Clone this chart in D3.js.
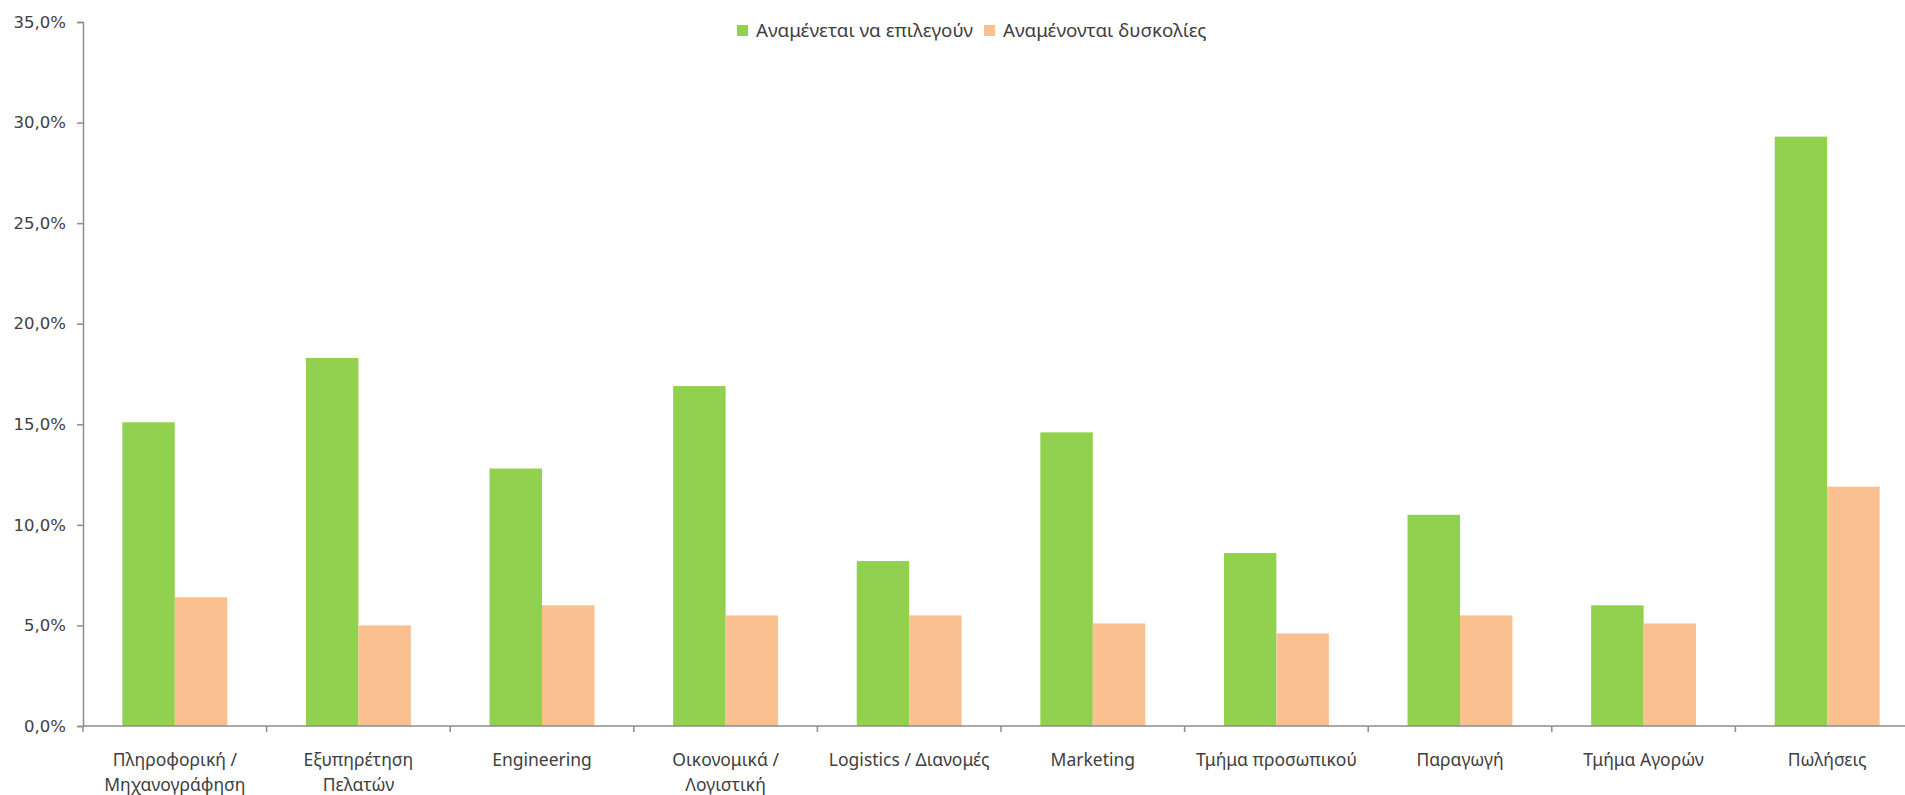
<!DOCTYPE html>
<html>
<head>
<meta charset="utf-8">
<script src="https://cdn.jsdelivr.net/npm/d3@7"></script>
<style>
  body { margin: 0; background: #fff; }
  .tick-label { font-family: "DejaVu Sans", sans-serif; font-size: 16.5px; fill: #404040; }
  .cat-label { font-family: "Noto Sans", "Open Sans", sans-serif; font-size: 17.5px; fill: #404040; }
  .legend-text { font-family: "Noto Sans", "Open Sans", sans-serif; font-size: 18.8px; fill: #404040; }
</style>
</head>
<body>
<div id="chart"></div>
<script>
const categories = [
  "Πληροφορική /\nΜηχανογράφηση",
  "Εξυπηρέτηση\nΠελατών",
  "Engineering",
  "Οικονομικά /\nΛογιστική",
  "Logistics / Διανομές",
  "Marketing",
  "Τμήμα προσωπικού",
  "Παραγωγή",
  "Τμήμα Αγορών",
  "Πωλήσεις"
];
const seriesNames = ["Αναμένεται να επιλεγούν", "Αναμένονται δυσκολίες"];
const expectedChosen = [15.1, 18.3, 12.8, 16.9, 8.2, 14.6, 8.6, 10.5, 6.0, 29.3];
const expectedHard = [6.4, 5.0, 6.0, 5.5, 5.5, 5.1, 4.6, 5.5, 5.1, 11.9];
const yTicks = [0, 5, 10, 15, 20, 25, 30, 35];

const colors = ["#92D050", "#FAC090"];

const svgWidth = 1905;
const svgHeight = 795;
const plot = { left: 83, top: 22, bottom: 726 };
const bandWidth = 183.6;

const svg = d3.select("#chart")
  .append("svg")
  .attr("width", svgWidth)
  .attr("height", svgHeight);

const locale = d3.formatLocale({ decimal: ",", thousands: ".", grouping: [3], currency: ["", "€"] });
const fmt = locale.format(".1f");

// scales
const xScale = d3.scaleBand()
  .domain(categories)
  .range([plot.left, plot.left + bandWidth * categories.length])
  .paddingInner(0)
  .paddingOuter(0);

const xInner = d3.scaleBand()
  .domain([0, 1])
  .range([0, bandWidth])
  .paddingInner(0)
  .paddingOuter(0.75);

const yScale = d3.scaleLinear()
  .domain([0, 35])
  .range([plot.bottom, plot.top]);

// y axis
const yAxis = d3.axisLeft(yScale)
  .tickValues(yTicks)
  .tickSize(6)
  .tickPadding(11)
  .tickFormat(d => fmt(d) + "%");

const yAxisGroup = svg.append("g")
  .attr("transform", `translate(${plot.left},0)`)
  .call(yAxis);

yAxisGroup.select(".domain").attr("stroke", "#8c8c8c").attr("stroke-width", 1.5);
yAxisGroup.selectAll(".tick line").attr("stroke", "#8c8c8c").attr("stroke-width", 1.5);
yAxisGroup.selectAll(".tick text")
  .attr("class", "tick-label")
  .attr("fill", null);

// bars
const groups = svg.selectAll(".cat")
  .data(categories)
  .enter()
  .append("g")
  .attr("class", "cat")
  .attr("transform", d => `translate(${xScale(d)},0)`);

[expectedChosen, expectedHard].forEach((values, s) => {
  groups.append("rect")
    .attr("x", xInner(s))
    .attr("width", xInner.bandwidth())
    .attr("y", (d, i) => yScale(values[i]))
    .attr("height", (d, i) => yScale(0) - yScale(values[i]))
    .attr("fill", colors[s]);
});

// x axis
svg.append("line")
  .attr("x1", plot.left)
  .attr("x2", svgWidth)
  .attr("y1", yScale(0))
  .attr("y2", yScale(0))
  .attr("stroke", "#8c8c8c")
  .attr("stroke-width", 1.5);

svg.selectAll(".x-tick")
  .data(categories)
  .enter()
  .append("line")
  .attr("class", "x-tick")
  .attr("x1", d => xScale(d))
  .attr("x2", d => xScale(d))
  .attr("y1", yScale(0))
  .attr("y2", yScale(0) + 6)
  .attr("stroke", "#8c8c8c")
  .attr("stroke-width", 1.5);

const labels = svg.selectAll(".cat-label")
  .data(categories)
  .enter()
  .append("text")
  .attr("class", "cat-label")
  .attr("text-anchor", "middle")
  .attr("transform", d => `translate(${xScale(d) + bandWidth / 2},766)`);

labels.selectAll("tspan")
  .data(d => d.split("\n"))
  .enter()
  .append("tspan")
  .attr("x", 0)
  .attr("y", (d, i) => i * 25)
  .text(d => d);

// legend
const legendX = [737, 984];
const legend = svg.selectAll(".legend")
  .data(seriesNames)
  .enter()
  .append("g")
  .attr("class", "legend")
  .attr("transform", (d, i) => `translate(${legendX[i]},25)`);

legend.append("rect")
  .attr("width", 11)
  .attr("height", 11)
  .attr("fill", (d, i) => colors[i]);

legend.append("text")
  .attr("class", "legend-text")
  .attr("x", 19)
  .attr("y", 12)
  .text(d => d);
</script>
</body>
</html>
